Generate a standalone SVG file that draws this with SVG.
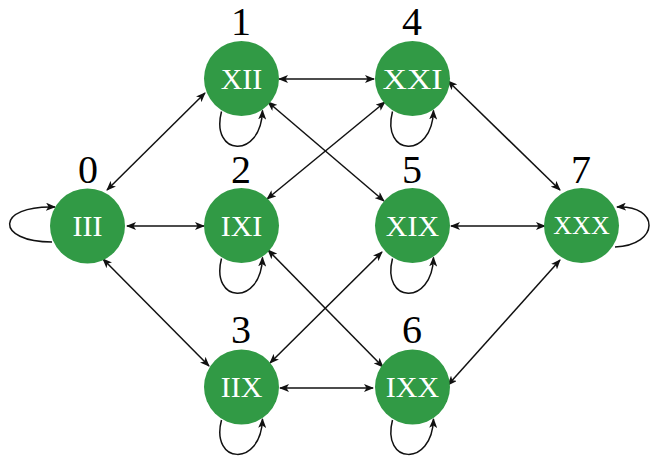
<svg xmlns="http://www.w3.org/2000/svg" width="654" height="456" viewBox="0 0 654 456">
<style>
.node circle{fill:#319a45;}
.node .lbl{font-family:"Liberation Serif","DejaVu Serif",serif;font-size:30px;fill:#ffffff;text-anchor:middle;}
.node .num{font-family:"Liberation Serif","DejaVu Serif",serif;font-size:40px;fill:#000000;text-anchor:middle;}
#edges line,#edges path{stroke:#111;stroke-width:1.5;fill:none;}
#edges .both{marker-start:url(#ah);marker-end:url(#ah);}
#edges .loop{marker-end:url(#ah);}
</style>
<defs>
<marker id="ah" viewBox="0 0 10 8" refX="9" refY="4" markerWidth="10" markerHeight="8" orient="auto-start-reverse" markerUnits="userSpaceOnUse">
<path d="M0,0 L10,4 L0,8 L2.5,4 Z" fill="#111"/>
</marker>
</defs>
<rect width="654" height="456" fill="#ffffff"/>
<g id="edges">
<line class="both" x1="107" y1="190" x2="205" y2="93"/>
<line class="both" x1="127" y1="226" x2="204" y2="226"/>
<line class="both" x1="103" y1="259" x2="209" y2="366"/>
<line class="both" x1="279" y1="79" x2="374" y2="79"/>
<line class="both" x1="268" y1="102" x2="384" y2="201"/>
<line class="both" x1="267" y1="199" x2="385" y2="102"/>
<line class="both" x1="268" y1="250" x2="383" y2="367"/>
<line class="both" x1="270" y1="363" x2="382" y2="252"/>
<line class="both" x1="280" y1="388" x2="373" y2="388"/>
<line class="both" x1="448" y1="81" x2="560" y2="190"/>
<line class="both" x1="451" y1="226" x2="545" y2="226"/>
<line class="both" x1="448" y1="385" x2="560" y2="260"/>
<path class="loop" d="M52,242 C-5,242 -5,205 55,207"/>
<path class="loop" d="M615,247 C660,245 660,205 617,207"/>
<path class="loop" d="M221.5,111.5 C210,156 261,160 262.5,110.5"/>
<path class="loop" d="M221.5,258.5 C210,303 261,307 262.5,257.5"/>
<path class="loop" d="M221.5,420 C210,464 261,468 262.5,419"/>
<path class="loop" d="M392.5,111.5 C381,156 432,160 433.5,110.5"/>
<path class="loop" d="M392.5,258.5 C381,303 432,307 433.5,257.5"/>
<path class="loop" d="M392.5,420 C381,464 432,468 433.5,419"/>
</g>
<g id="n0" class="node"><circle cx="87.5" cy="226" r="37.5"/><text class="lbl" x="87.5" y="236">III</text><text class="num" x="88" y="183">0</text></g>
<g id="n1" class="node"><circle cx="241.5" cy="78.5" r="37.5"/><text class="lbl" x="241.5" y="88.5">XII</text><text class="num" x="241" y="35">1</text></g>
<g id="n2" class="node"><circle cx="241.5" cy="225.5" r="37.5"/><text class="lbl" x="241.5" y="235.5">IXI</text><text class="num" x="241" y="183">2</text></g>
<g id="n3" class="node"><circle cx="241.5" cy="387" r="37.5"/><text class="lbl" x="241.5" y="397">IIX</text><text class="num" x="241" y="343">3</text></g>
<g id="n4" class="node"><circle cx="412.5" cy="78.5" r="37.5"/><text class="lbl" x="412.5" y="88.5" textLength="60" lengthAdjust="spacingAndGlyphs">XXI</text><text class="num" x="412" y="35">4</text></g>
<g id="n5" class="node"><circle cx="412.5" cy="225.5" r="37.5"/><text class="lbl" x="412.5" y="235.5">XIX</text><text class="num" x="412" y="183">5</text></g>
<g id="n6" class="node"><circle cx="412.5" cy="387" r="37.5"/><text class="lbl" x="412.5" y="397">IXX</text><text class="num" x="412" y="343">6</text></g>
<g id="n7" class="node"><circle cx="581.5" cy="225.5" r="37.5"/><text class="lbl" x="581.5" y="234" style="font-size:26px">XXX</text><text class="num" x="581" y="183">7</text></g>
</svg>
